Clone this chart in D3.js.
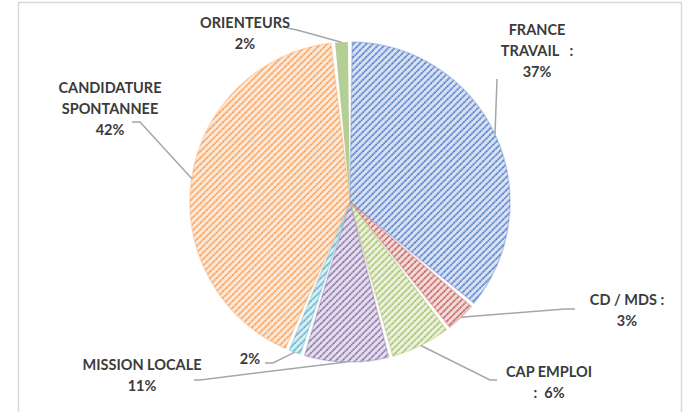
<!DOCTYPE html>
<html>
<head>
<meta charset="utf-8">
<script src="https://cdn.jsdelivr.net/npm/d3@7"></script>
<style>
  body { margin: 0; background: #fff; }
  svg text { font-family: Lato, "Open Sans", sans-serif; font-weight: 700; fill: #3b3b3b; }
</style>
</head>
<body>
<svg id="chart" width="686" height="412"></svg>
<script>
// slice order, clockwise from 12 o'clock
const categories = ['FRANCE TRAVAIL', 'CD / MDS', 'CAP EMPLOI', 'MISSION LOCALE', '', 'CANDIDATURE SPONTANNEE', 'ORIENTEURS'];
// slice sizes (%)
const values = [36.1, 3.4, 6.4, 8.9, 1.6, 41.9, 1.7];
// label texts as printed
const labelLines = [
  ['FRANCE', 'TRAVAIL   :', '37%'],
  ['CD / MDS :', '3%'],
  ['CAP EMPLOI', ':  6%'],
  ['MISSION LOCALE', '11%'],
  ['2%'],
  ['CANDIDATURE', 'SPONTANNEE', '42%'],
  ['ORIENTEURS', '2%']
];
const mainColors = ['#4472c4', '#c0504d', '#9bbb59', '#8064a2', '#4bacc6', '#f79646', '#a9c98a'];
const lightColors = ['#d9e2f3', '#f2dcdb', '#ebf1de', '#e4dfec', '#daeef3', '#fde9d9', '#b4cf95'];
const solid = [false, false, false, false, false, false, true];

// label layout: text centre x, first baseline y, leader elbow points
const labelLayout = [
  { x: 537, y: 35, leader: [[497, 79]] },
  { x: 627, y: 305, leader: [[575, 309], [565, 309]] },
  { x: 549, y: 377, leader: [[497, 380], [490, 380]] },
  { x: 142, y: 370, leader: [[194, 380], [200, 380]] },
  { x: 250, y: 364, leader: [[265, 363], [273, 363]] },
  { x: 110, y: 93, leader: [[132, 122], [140, 122]] },
  { x: 245, y: 28, leader: [[287, 28], [297, 30]] }
];

const svg = d3.select('#chart');
const cx = 350, cy = 202, r = 160;

// frame
svg.append('rect')
  .attr('x', 18.5).attr('y', 2.5)
  .attr('width', 663).attr('height', 420)
  .attr('fill', 'none')
  .attr('stroke', '#d9d9d9')
  .attr('stroke-width', 1.5);

// hatch patterns
const defs = svg.append('defs');
mainColors.forEach((c, i) => {
  const p = defs.append('pattern')
    .attr('id', 'hatch' + i)
    .attr('patternUnits', 'userSpaceOnUse')
    .attr('width', 4.6).attr('height', 4.6)
    .attr('patternTransform', 'rotate(45)');
  p.append('rect').attr('width', 4.6).attr('height', 4.6).attr('fill', lightColors[i]);
  p.append('line')
    .attr('x1', 1).attr('y1', 0).attr('x2', 1).attr('y2', 4.6)
    .attr('stroke', c)
    .attr('stroke-width', 1.5)
    .attr('stroke-dasharray', '1.8 0.5');
});

const pie = d3.pie().sort(null).value(d => d);
const arcs = pie(values);

const arc = d3.arc()
  .innerRadius(0)
  .outerRadius(r)
  .padAngle(0.027)
  .padRadius(r);

const edgeArc = d3.arc().innerRadius(r).outerRadius(r);

const g = svg.append('g').attr('transform', `translate(${cx},${cy})`);

g.selectAll('path.slice')
  .data(arcs)
  .enter().append('path')
  .attr('class', 'slice')
  .attr('d', arc)
  .attr('fill', (d, i) => solid[i] ? lightColors[i] : `url(#hatch${i})`)
  .attr('stroke', (d, i) => mainColors[i])
  .attr('stroke-opacity', (d, i) => solid[i] ? 0 : 0.3)
  .attr('stroke-width', 1.5);

// leader lines: from label elbow to middle of slice edge
arcs.forEach((d, i) => {
  const c = edgeArc.centroid(d);
  const pts = labelLayout[i].leader.concat([[c[0] + cx, c[1] + cy]]);
  svg.append('path')
    .attr('d', d3.line()(pts))
    .attr('fill', 'none')
    .attr('stroke', '#a6a6a6')
    .attr('stroke-width', 1.5);
});

// labels
labelLines.forEach((lines, i) => {
  const t = svg.append('text')
    .attr('x', labelLayout[i].x)
    .attr('y', labelLayout[i].y)
    .attr('text-anchor', 'middle')
    .attr('font-size', 14.5);
  lines.forEach((s, j) => {
    t.append('tspan')
      .attr('x', labelLayout[i].x)
      .attr('dy', j === 0 ? 0 : 21)
      .attr('xml:space', 'preserve')
      .text(s);
  });
});
</script>
</body>
</html>
